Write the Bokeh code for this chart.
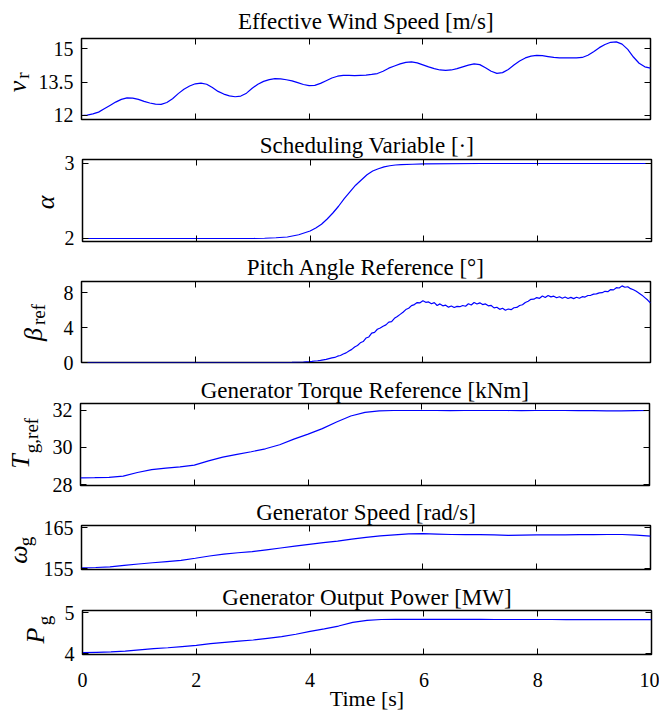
import numpy as np
from bokeh.plotting import figure
from bokeh.models import Range1d, LinearAxis, FixedTicker, Label
from bokeh.layouts import column, row
from bokeh.embed import file_html
from bokeh.resources import INLINE

# ---------------- data ----------------
t_wind = [round(0.1 * i, 1) for i in range(101)]
wind_speed = [12.00, 12.02, 12.07, 12.15, 12.30, 12.45, 12.60, 12.72, 12.79, 12.78,
              12.72, 12.63, 12.56, 12.51, 12.50, 12.58, 12.75, 12.98, 13.18, 13.32,
              13.42, 13.45, 13.40, 13.25, 13.08, 12.96, 12.88, 12.84, 12.87, 13.00,
              13.22, 13.40, 13.53, 13.61, 13.65, 13.64, 13.60, 13.55, 13.47, 13.39,
              13.34, 13.35, 13.44, 13.56, 13.68, 13.76, 13.80, 13.80, 13.79, 13.80,
              13.81, 13.84, 13.88, 13.98, 14.12, 14.22, 14.31, 14.38, 14.40, 14.36,
              14.27, 14.18, 14.10, 14.04, 14.02, 14.04, 14.10, 14.18, 14.26, 14.31,
              14.28, 14.14, 13.98, 13.89, 13.92, 14.06, 14.26, 14.44, 14.58, 14.66,
              14.69, 14.68, 14.64, 14.60, 14.58, 14.58, 14.58, 14.58, 14.60, 14.70,
              14.86, 15.04, 15.18, 15.28, 15.30, 15.20, 14.96, 14.62, 14.34, 14.18,
              14.12]

t_alpha = [0.0, 1.0, 2.0, 3.0, 3.2, 3.4, 3.6, 3.8, 4.0, 4.1, 4.2, 4.3, 4.4, 4.5,
           4.6, 4.7, 4.8, 4.9, 5.0, 5.1, 5.2, 5.3, 5.4, 5.5, 5.6, 5.8, 6.0, 7.0,
           8.0, 9.0, 10.0]
alpha_sched = [2.00, 2.00, 2.00, 2.00, 2.003, 2.01, 2.02, 2.05, 2.10, 2.14, 2.19,
               2.26, 2.34, 2.43, 2.53, 2.62, 2.71, 2.78, 2.85, 2.90, 2.93, 2.955,
               2.97, 2.98, 2.985, 2.99, 2.995, 3.00, 3.00, 3.00, 3.00]

t_pitch = [0.0, 1.0, 2.0, 3.0, 3.5, 3.7, 3.9] + [round(4.0 + 0.05 * i, 2) for i in range(121)]
pitch_ref = [0.0, 0.0, 0.0, 0.0, 0.0, 0.02, 0.06,
             0.10, 0.13, 0.17, 0.20, 0.25, 0.31, 0.36, 0.44, 0.52, 0.58,
             0.72, 0.80, 0.97, 1.10, 1.32, 1.50, 1.78, 1.95, 2.25, 2.40,
             2.80, 2.92, 3.35, 3.45, 3.80, 3.95, 4.15, 4.30, 4.62, 4.68,
             5.05, 5.25, 5.50, 5.75, 6.05, 6.20, 6.50, 6.62, 6.85, 6.82,
             7.05, 6.88, 6.92, 6.72, 6.84, 6.52, 6.70, 6.48, 6.55, 6.33,
             6.46, 6.28, 6.42, 6.38, 6.52, 6.43, 6.72, 6.58, 6.86, 6.68,
             6.82, 6.62, 6.70, 6.48, 6.52, 6.24, 6.32, 6.08, 6.20, 5.98,
             6.12, 6.04, 6.26, 6.30, 6.52, 6.60, 6.86, 7.00, 7.22, 7.24,
             7.42, 7.34, 7.60, 7.44, 7.66, 7.50, 7.58, 7.40, 7.52, 7.34,
             7.48, 7.32, 7.44, 7.30, 7.46, 7.34, 7.52, 7.48, 7.66, 7.68,
             7.82, 7.84, 7.96, 7.98, 8.14, 8.10, 8.34, 8.30, 8.55, 8.52,
             8.76, 8.60, 8.66, 8.44, 8.32, 8.14, 7.92, 7.70, 7.42, 7.14,
             6.80]

t_slow = [round(0.25 * i, 2) for i in range(41)]
torque_ref = [28.36, 28.37, 28.39, 28.45, 28.65, 28.80, 28.88, 28.95, 29.05, 29.28,
              29.48, 29.63, 29.77, 29.93, 30.15, 30.45, 30.72, 31.02, 31.38, 31.70,
              31.90, 31.98, 32.00, 32.00, 32.00, 32.00, 31.99, 32.00, 32.00, 32.00,
              32.00, 31.99, 32.00, 32.00, 32.00, 31.99, 31.99, 31.98, 31.98, 31.99,
              32.00]
gen_speed = [155.15, 155.25, 155.40, 155.75, 156.10, 156.40, 156.70, 157.00, 157.50, 158.05,
             158.50, 158.85, 159.10, 159.55, 160.00, 160.45, 160.90, 161.30, 161.70, 162.15,
             162.60, 162.95, 163.20, 163.45, 163.50, 163.40, 163.30, 163.25, 163.25, 163.20,
             163.10, 163.15, 163.20, 163.20, 163.20, 163.25, 163.25, 163.30, 163.30, 163.15,
             162.90]
gen_power = [4.02, 4.03, 4.04, 4.06, 4.09, 4.12, 4.14, 4.17, 4.20, 4.24,
             4.27, 4.30, 4.33, 4.37, 4.41, 4.47, 4.54, 4.60, 4.67, 4.76,
             4.81, 4.83, 4.835, 4.835, 4.835, 4.833, 4.832, 4.832, 4.831, 4.830,
             4.830, 4.830, 4.829, 4.829, 4.828, 4.828, 4.827, 4.827, 4.826, 4.826,
             4.825]

titles = ["Effective Wind Speed [m/s]", "Scheduling Variable [\u00b7]",
          "Pitch Angle Reference [\u00b0]", "Generator Torque Reference [kNm]",
          "Generator Speed [rad/s]", "Generator Output Power [MW]"]
x_label = "Time [s]"
x_ticks = [0, 2, 4, 6, 8, 10]
y_ticks = [[12, 13.5, 15], [2, 3], [0, 4, 8], [28, 30, 32], [155, 165], [4, 5]]
y_limits = [(11.82, 15.45), (1.96, 3.053), (0.0, 9.26), (27.946, 32.378),
            (154.76, 165.49), (3.976, 5.049)]
# (main symbol, subscript)
y_symbols = [("v", "r"), ("\u03b1", ""), ("\u03b2", "ref"), ("T", "g,ref"),
             ("\u03c9", "g"), ("P", "g")]
series = [(t_wind, wind_speed), (t_alpha, alpha_sched), (t_pitch, pitch_ref),
          (t_slow, torque_ref), (t_slow, gen_speed), (t_slow, gen_power)]

# ---------------- layout (page pixels) ----------------
FONT = "Liberation Serif"
FRAME_LEFT, FRAME_W, RIGHT_B = 80, 569, 8
frames = [(38, 119), (159, 241), (281, 362), (403, 485), (525, 569), (610, 654)]
fig_tops = [0, 128, 250, 374, 496, 580]
fig_bottoms = [128, 250, 374, 496, 580, 715]
title_standoff = [9, 3, 3, 1, 1, 2]
label_w = [35, 61, 60, 48, 40, 61]
# y-label positions (page px): main centre, subscript centre
sym_pos = [((17, 86), (22, 75)), ((45, 202), None), ((33, 334), (38, 314)),
           ((20, 461), (31, 435)), ((18, 554), (25, 541)), ((35, 635), (44, 620))]


def style_axis(ax, ticks, show_labels):
    ax.ticker = FixedTicker(ticks=ticks)
    ax.major_tick_in = 6
    ax.major_tick_out = 0
    ax.minor_tick_in = 0
    ax.minor_tick_out = 0
    ax.major_tick_line_color = "black"
    ax.major_tick_line_width = 1
    ax.axis_line_color = None
    ax.major_label_text_font = FONT
    ax.major_label_text_color = "black"
    if show_labels:
        ax.major_label_text_font_size = "20px"
    else:
        ax.major_label_text_font_size = "0px"
        ax.major_label_standoff = 0
        ax.major_label_overrides = {v: "" for v in ticks}


rows = []
for i in range(6):
    top, bot = frames[i]
    ftop, fbot = fig_tops[i], fig_bottoms[i]
    lw = label_w[i]

    # --- main panel ---
    p = figure(frame_width=FRAME_W, frame_height=bot - top,
               x_range=Range1d(0, 10), y_range=Range1d(*y_limits[i]),
               output_backend="svg", toolbar_location=None,
               min_border_left=FRAME_LEFT - lw, min_border_right=RIGHT_B,
               min_border_top=top - ftop, min_border_bottom=fbot - bot,
               title=titles[i])
    p.title.text_font = FONT
    p.title.text_font_size = "23px"
    p.title.text_font_style = "normal"
    p.title.text_color = "black"
    p.title.align = "center"
    p.title.standoff = title_standoff[i]
    p.xgrid.visible = False
    p.ygrid.visible = False
    p.outline_line_color = "black"
    p.outline_line_width = 1.5
    p.background_fill_color = "white"
    p.border_fill_color = "white"

    last = (i == 5)
    style_axis(p.xaxis[0], x_ticks, last)
    style_axis(p.yaxis[0], y_ticks[i], True)
    p.yaxis[0].major_label_standoff = 8
    if i == 0:
        p.yaxis[0].major_label_overrides = {12: "12", 13.5: "13.5", 15: "15"}
    if last:
        p.xaxis[0].major_label_standoff = 18
        p.xaxis[0].axis_label = x_label
        p.xaxis[0].axis_label_text_font = FONT
        p.xaxis[0].axis_label_text_font_size = "22px"
        p.xaxis[0].axis_label_text_font_style = "normal"
        p.xaxis[0].axis_label_text_color = "black"
        p.xaxis[0].axis_label_standoff = -4

    top_ax = LinearAxis()
    style_axis(top_ax, x_ticks, False)
    p.add_layout(top_ax, "above")
    right_ax = LinearAxis()
    style_axis(right_ax, y_ticks[i], False)
    p.add_layout(right_ax, "right")

    tx, vy = series[i]
    p.line(tx, vy, line_color="#0000ff", line_width=1.2)

    # --- y-label strip: frame aligned with the panel frame, page-pixel ranges ---
    lf = figure(frame_width=lw, frame_height=bot - top,
                x_range=Range1d(0, lw), y_range=Range1d(bot, top),
                output_backend="svg", toolbar_location=None,
                min_border_left=0, min_border_right=0,
                min_border_top=top - ftop, min_border_bottom=fbot - bot,
                x_axis_location=None, y_axis_location=None)
    lf.outline_line_color = None
    lf.grid.visible = False
    lf.background_fill_color = "white"
    lf.border_fill_color = "white"
    main, sub = y_symbols[i]
    (mx, my), spos = sym_pos[i]
    lf.add_layout(Label(x=mx, y=my, text=main, angle=90, angle_units="deg",
                        text_align="center", text_baseline="middle",
                        text_font=FONT, text_font_size="26px",
                        text_font_style="italic", text_color="black"))
    if sub:
        sx, sy = spos
        lf.add_layout(Label(x=sx, y=sy, text=sub, angle=90, angle_units="deg",
                            text_align="center", text_baseline="middle",
                            text_font=FONT, text_font_size="19px",
                            text_font_style="normal", text_color="black"))
    rows.append(row(lf, p, spacing=0))

layout = column(*rows, spacing=0)
open("out.html", "w").write(file_html(layout, INLINE))
